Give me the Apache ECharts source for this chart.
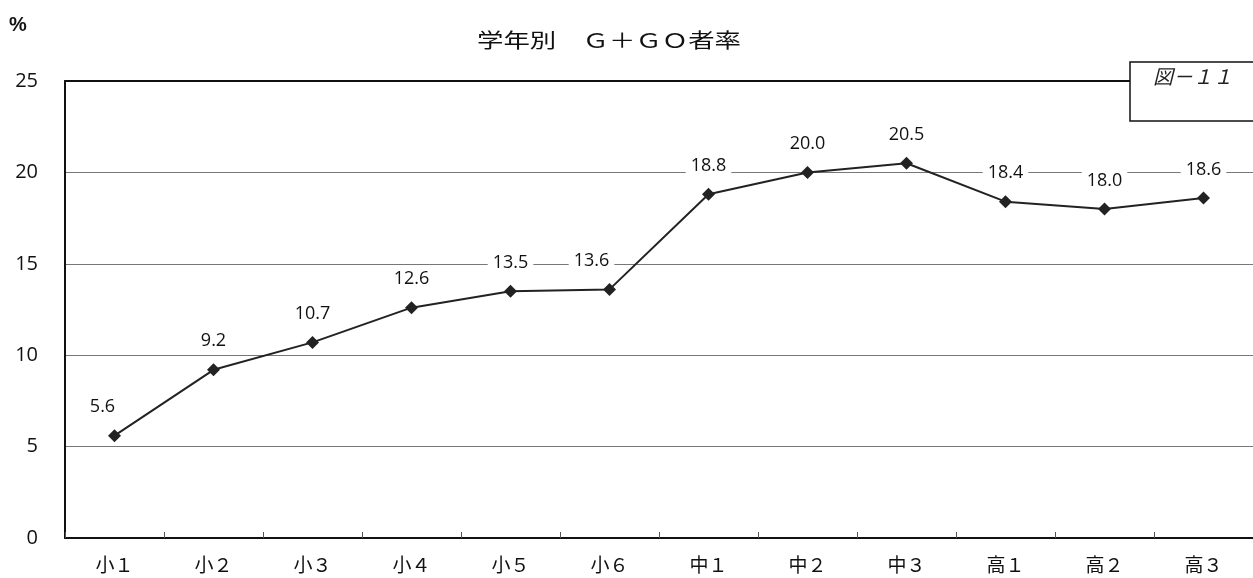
<!DOCTYPE html>
<html><head><meta charset="utf-8">
<script src="https://cdn.jsdelivr.net/npm/echarts@6/dist/echarts.min.js"></script>
<style>html,body{margin:0;padding:0;background:#fff}#c{width:1253px;height:578px}</style>
</head><body><div id="c"></div>
<script>
const categories = ['小１','小２','小３','小４','小５','小６','中１','中２','中３','高１','高２','高３'];
const values = [5.6, 9.2, 10.7, 12.6, 13.5, 13.6, 18.8, 20.0, 20.5, 18.4, 18.0, 18.6];
const yTicks = [0, 5, 10, 15, 20, 25];
const titleText = '学年別　Ｇ＋ＧＯ者率';
const figText = '図－１１';

// small manual nudges of a few value labels, as in the original layout
const labelNudge = {0: [-12, 0], 5: [-18, 0]};

const chart = echarts.init(document.getElementById('c'), null, {renderer: 'canvas'});
const cjk = '"Noto Sans CJK JP", "Noto Sans", sans-serif';
const num = '"Open Sans", "Noto Sans", sans-serif';
const seriesData = values.map((v, i) => labelNudge[i] ? {value: v, label: {offset: labelNudge[i]}} : v);
chart.setOption({
  animation: false,
  backgroundColor: '#fff',
  grid: {left: 65, right: -3, top: 81, bottom: 40, containLabel: false},
  xAxis: [{
    type: 'category', data: categories, boundaryGap: true,
    axisLine: {lineStyle: {color: '#111', width: 2}},
    axisTick: {show: true, inside: true, length: 6, lineStyle: {color: '#555', width: 1}},
    axisLabel: {fontFamily: cjk, fontSize: 19, color: '#111', margin: 17}
  }, {
    type: 'category', data: categories, position: 'top',
    axisLine: {lineStyle: {color: '#111', width: 2}},
    axisTick: {show: false}, axisLabel: {show: false}
  }],
  yAxis: {
    type: 'value', min: yTicks[0], max: yTicks[yTicks.length - 1], interval: 5,
    axisLine: {show: true, lineStyle: {color: '#111', width: 2}},
    axisTick: {show: false},
    axisLabel: {fontFamily: num, fontSize: 20, color: '#111', margin: 27},
    splitLine: {show: true, lineStyle: {color: '#777', width: 1}}
  },
  series: [{
    type: 'line', data: seriesData, xAxisIndex: 0,
    symbol: 'diamond', symbolSize: 13,
    lineStyle: {color: '#222', width: 2},
    itemStyle: {color: '#222'},
    label: {
      show: true, position: 'top', distance: 12,
      formatter: p => Number(p.value).toFixed(1),
      fontFamily: num, fontSize: 18, color: '#111',
      backgroundColor: '#fff', padding: [1, 5]
    },
    z: 5
  }],
  graphic: [
    {type: 'text', x: 477, y: 40, scaleX: 1.32, style: {text: titleText, fontFamily: cjk, fontSize: 20, fill: '#111', textVerticalAlign: 'middle', verticalAlign: 'middle'}},
    {type: 'text', left: 9, top: 15, style: {text: '%', fontFamily: '"Liberation Sans", Arial, sans-serif', fontSize: 20, fontWeight: 'bold', fill: '#111'}},
    {type: 'rect', shape: {x: 1130, y: 62, width: 130, height: 59}, style: {fill: '#fff', stroke: '#111', lineWidth: 1.5}, z: 10},
    {type: 'text', left: 1153, top: 66, style: {text: figText, fontFamily: cjk, fontSize: 20, fontStyle: 'italic', fill: '#222'}, z: 11}
  ]
});
</script></body></html>
